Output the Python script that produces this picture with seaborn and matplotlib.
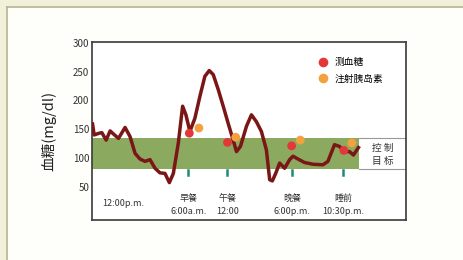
import pandas as pd
import seaborn as sns
from matplotlib import pyplot as plt
from matplotlib.patches import Rectangle
from matplotlib.lines import Line2D

# blood sugar curve over the day (x = position along the time axis, y = mg/dl)
curve_x = [0.7, 2.3, 7.3, 10, 14.3, 18.3, 22.7, 26.7, 33.3, 38.3, 43.3, 48.3, 53.3, 58.3,
           63.3, 68.3, 73.3, 77.7, 81.7, 86.7, 91, 94.3, 98.3, 103.3, 108.3, 113.3, 117.7,
           121.7, 126.7, 131.7, 136.7, 141.7, 145, 149, 155, 160, 165, 170, 175, 178.3, 181,
           184.3, 188.3, 193.3, 198.3, 201.7, 206.7, 213.3, 221.7, 231.7, 236.7, 243.3,
           248.3, 253.3, 258.3, 262.3, 267.3]
curve_y = [159, 140, 143, 144, 131, 147, 140, 134, 153, 137, 108, 98, 94, 97,
           82, 74, 73, 57, 73, 126, 190, 175, 146, 169, 207, 242, 252,
           245, 219, 190, 160, 131, 111, 120, 155, 175, 163, 146, 114, 62, 60,
           73, 91, 82, 97, 103, 98, 92, 89, 88, 94, 123,
           120, 111, 111, 105, 118]

# measurement / insulin dots
test_x = [97.7, 136, 200.3, 252.7]
test_y = [143, 127, 121, 113]
insulin_x = [107.3, 144.3, 209, 260.7]
insulin_y = [152, 136, 131, 126]

# meal markers and labels
meal_x = [31.7, 96.7, 135.7, 201, 252.3]
meal_names = ["", "早餐", "午餐", "晚餐", "睡前"]
meal_times = ["12:00p.m.", "6:00a.m.", "12:00", "6:00p.m.", "10:30p.m."]

target_low, target_high = 80, 135
y_ticks = [50, 100, 150, 200, 250, 300]

plt.rcParams['font.family'] = ['Noto Sans CJK SC', 'DejaVu Sans']

fig = plt.figure(figsize=(4.64, 2.60), dpi=100)
fig.patch.set_facecolor('#fefefb')
# cream outer frame
fig.patches.append(Rectangle((0, 0.977), 1, 0.023, transform=fig.transFigure,
                             facecolor='#f1f0d8', edgecolor='none'))
fig.patches.append(Rectangle((0, 0), 0.014, 1, transform=fig.transFigure,
                             facecolor='#f1f0d8', edgecolor='none'))
fig.lines.append(Line2D([0.015, 1], [0.975, 0.975], transform=fig.transFigure,
                        color='#b4b48c', lw=1.2))
fig.lines.append(Line2D([0.015, 0.015], [0, 0.975], transform=fig.transFigure,
                        color='#b4b48c', lw=1.2))

ax = fig.add_axes([0.198, 0.154, 0.677, 0.685])
ax.set_facecolor('white')
ax.set_xlim(0, 315)
ax.set_ylim(-8, 302)

band_end = 268.3
ax.add_patch(Rectangle((0, target_low), band_end, target_high - target_low,
                       facecolor='#8caa5f', edgecolor='none', zorder=1))
ax.add_patch(Rectangle((band_end, target_low), 315 - band_end, target_high - target_low,
                       facecolor='white', edgecolor='none', zorder=1))
ax.plot([band_end, 315], [target_high, target_high], color='#999999', lw=0.8, zorder=2)
ax.plot([band_end, 315], [target_low, target_low], color='#999999', lw=0.8, zorder=2)
ax.text(291.5, 117, "控 制", ha='center', va='center', fontsize=7, color='#333333')
ax.text(291.5, 95, "目 标", ha='center', va='center', fontsize=7, color='#333333')

curve = pd.DataFrame({'x': curve_x, 'y': curve_y})
sns.lineplot(data=curve, x='x', y='y', ax=ax, color='#7b1616', lw=2.5, zorder=3,
             sort=False)

dots = pd.DataFrame({
    'x': test_x + insulin_x,
    'y': test_y + insulin_y,
    'kind': ['测血糖'] * len(test_x) + ['注射胰岛素'] * len(insulin_x),
})
sns.scatterplot(data=dots, x='x', y='y', hue='kind', ax=ax, s=40,
                palette={'测血糖': '#e2383a', '注射胰岛素': '#f3a13f'},
                edgecolor='none', zorder=4)
ax.legend(loc='upper left', bbox_to_anchor=(0.69, 0.94), frameon=False, fontsize=7,
          handletextpad=0.2, labelspacing=0.65, borderpad=0, markerscale=1.1)

for x in meal_x[1:]:
    ax.plot([x, x], [71, 79], color='#1d8a78', lw=1.8, zorder=2)

for x, name, t in zip(meal_x, meal_names, meal_times):
    if name:
        ax.text(x, 29, name, ha='center', va='center', fontsize=6.5, color='#333333')
        ax.text(x, 7, t, ha='center', va='center', fontsize=6.5, color='#333333')
    else:
        ax.text(x, 21, t, ha='center', va='center', fontsize=6.5, color='#333333')

ax.set_yticks(y_ticks)
ax.set_xticks([])
ax.tick_params(axis='y', length=0, labelsize=7, colors='#333333', pad=2)
for s in ax.spines.values():
    s.set_color('#3a3a3a')
    s.set_linewidth(1.2)
ax.set_xlabel('')
ax.set_ylabel('血糖(mg/dl)', fontsize=10.5, color='#222222', labelpad=12)

fig.savefig('out.png', dpi=100)
